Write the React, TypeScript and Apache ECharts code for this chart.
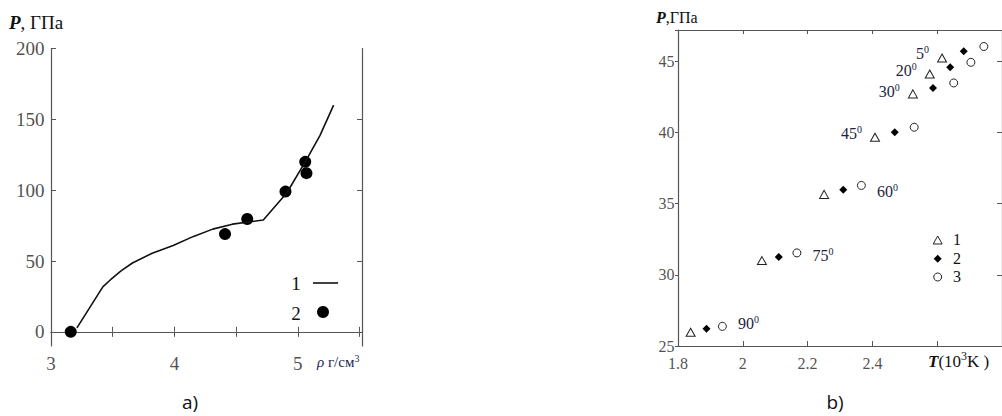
import React, { useEffect, useRef } from "react";
import * as echarts from "echarts";

// Panel a)
const curveRho = [3.21, 3.42, 3.48, 3.57, 3.66, 3.82, 3.99, 4.15, 4.31, 4.47, 4.72, 4.91, 5.06, 5.18, 5.29];
const curveP = [2.8, 31.7, 36.6, 43.2, 48.6, 55.5, 61, 67.2, 72.5, 76, 78.9, 98, 120, 138.7, 160];
const dotRho = [3.16, 4.41, 4.59, 4.9, 5.06, 5.07];
const dotP = [0, 69, 79.6, 99, 120, 112];
const aXLabels = [3, 4, 5];
const aYLabels = [0, 50, 100, 150, 200];

// Panel b)
const angles = [90, 75, 60, 45, 30, 20, 5];
const T1 = [1.839, 2.059, 2.251, 2.408, 2.525, 2.577, 2.615];
const P1 = [25.96, 31.0, 35.65, 39.67, 42.71, 44.11, 45.23];
const T2 = [1.888, 2.111, 2.31, 2.469, 2.587, 2.64, 2.682];
const P2 = [26.21, 31.26, 35.98, 40.02, 43.13, 44.58, 45.7];
const T3 = [1.937, 2.167, 2.366, 2.529, 2.651, 2.704, 2.744];
const P3 = [26.38, 31.54, 36.28, 40.37, 43.48, 44.93, 46.04];
const bXLabels = [1.8, 2, 2.2, 2.4];
const bYLabels = [25, 30, 35, 40, 45];

const SERIF = "Liberation Serif";
const AX = "#555";
const LBL = "#1c2440";

const labelOffsets: Record<number, [number, number]> = {
  90: [0, -3],
  75: [0, 3],
  60: [0, 6],
  45: [0, -4],
  30: [0, -2],
  20: [0, -3],
  5: [0, -5],
};

export default function App() {
  const ref = useRef<HTMLDivElement>(null);
  useEffect(() => {
    if (!ref.current) return;
    const chart = echarts.init(ref.current, undefined, { renderer: "svg" });

    const angleRich = {
      n: { fontFamily: SERIF, fontSize: 16, color: LBL, lineHeight: 18 },
      s: { fontFamily: SERIF, fontSize: 10, color: LBL, verticalAlign: "top", lineHeight: 18 },
    };
    const mkLabel = (a: number, pos: string) => ({
      show: true,
      position: pos,
      distance: pos === "right" ? 11 : 8,
      offset: labelOffsets[a],
      formatter: `{n|${a}}{s|0}`,
      rich: angleRich,
    });

    const tri = T1.map((t, i) => ({
      value: [t, P1[i]],
      label: i >= 3 ? mkLabel(angles[i], "left") : { show: false },
    }));
    const dia = T2.map((t, i) => ({ value: [t, P2[i]] }));
    const circ = T3.map((t, i) => ({
      value: [t, P3[i]],
      label: i < 3 ? mkLabel(angles[i], "right") : { show: false },
    }));

    const axisCommon = {
      axisLine: { show: true, lineStyle: { color: AX, width: 1.2 } },
      splitLine: { show: false },
      axisLabel: { show: false },
    };
    const tickIn = (len: number) => ({ show: true, inside: true, length: len, lineStyle: { color: AX } });

    // tick-label series: transparent points on the axis, labelled through the axis scales
    const tickLabelSeries = (
      xi: number,
      pts: number[][],
      pos: string,
      dist: number,
      size: number,
      idx: number
    ) => ({
      type: "scatter",
      xAxisIndex: xi,
      yAxisIndex: xi,
      symbol: "circle",
      symbolSize: 1,
      clip: false,
      silent: true,
      z: 5,
      itemStyle: { color: "rgba(0,0,0,0)" },
      data: pts.map((p) => ({
        value: p,
        label: {
          show: true,
          position: pos,
          distance: dist,
          formatter: `{t|${p[idx]}}`,
          rich: { t: { fontFamily: SERIF, fontSize: size, color: "#222", lineHeight: size + 2 } },
        },
      })),
    });

    const option: any = {
      animation: false,
      textStyle: { fontFamily: SERIF },
      grid: [
        { left: 51, top: 48.5, width: 311, height: 297.5 },
        { left: 678, top: 30, width: 327.5, height: 316 },
      ],
      xAxis: [
        { gridIndex: 0, type: "value", min: 3, max: 5.52, interval: 0.5, position: "bottom", ...axisCommon, axisTick: tickIn(5) },
        { gridIndex: 0, type: "value", min: 3, max: 5.52, interval: 0.5, position: "top", ...axisCommon, axisTick: tickIn(5) },
        { gridIndex: 1, type: "value", min: 1.8, max: 2.8, interval: 0.2, position: "bottom", ...axisCommon, axisTick: tickIn(5) },
        { gridIndex: 1, type: "value", min: 1.8, max: 2.8, interval: 0.2, position: "top", ...axisCommon, axisTick: tickIn(4) },
      ],
      yAxis: [
        {
          gridIndex: 0, type: "value", min: -10, max: 200, interval: 10, position: "left",
          ...axisCommon, axisTick: { ...tickIn(5), customValues: aYLabels },
        },
        {
          gridIndex: 0, type: "value", min: -10, max: 200, interval: 10, position: "right",
          ...axisCommon, axisTick: { ...tickIn(5), customValues: [50, 100, 150] },
        },
        {
          gridIndex: 1, type: "value", min: 25, max: 47.2, interval: 5, position: "left",
          ...axisCommon, axisTick: { show: true, inside: false, length: 3, lineStyle: { color: AX } },
        },
        {
          gridIndex: 1, type: "value", min: 25, max: 47.2, interval: 5, position: "right",
          ...axisCommon, axisTick: tickIn(5),
        },
      ],
      series: [
        {
          type: "line", xAxisIndex: 0, yAxisIndex: 0,
          data: curveRho.map((r, i) => [r, curveP[i]]),
          showSymbol: false, symbol: "none",
          lineStyle: { color: "#111", width: 1.6 },
          silent: true,
        },
        {
          type: "scatter", xAxisIndex: 0, yAxisIndex: 0,
          data: dotRho.map((r, i) => [r, dotP[i]]),
          symbol: "circle", symbolSize: 12,
          itemStyle: { color: "#000", opacity: 1 },
          silent: true,
        },
        {
          type: "scatter", xAxisIndex: 2, yAxisIndex: 2,
          data: tri, symbol: "triangle", symbolSize: [9, 8],
          itemStyle: { color: "#fff", borderColor: "#222", borderWidth: 1, opacity: 1 },
          silent: true,
        },
        {
          type: "scatter", xAxisIndex: 2, yAxisIndex: 2,
          data: dia, symbol: "diamond", symbolSize: [8, 8],
          itemStyle: { color: "#000", opacity: 1 },
          silent: true,
        },
        {
          type: "scatter", xAxisIndex: 2, yAxisIndex: 2,
          data: circ, symbol: "circle", symbolSize: 8,
          itemStyle: { color: "#fff", borderColor: "#222", borderWidth: 1, opacity: 1 },
          silent: true,
        },
        tickLabelSeries(0, aXLabels.map((v) => [v, -10]), "bottom", 6, 19, 0),
        tickLabelSeries(0, aYLabels.map((v) => [3, v]), "left", 6, 19, 1),
        tickLabelSeries(2, bXLabels.map((v) => [v, 25]), "bottom", 8, 16, 0),
        tickLabelSeries(2, bYLabels.map((v) => [1.8, v]), "left", 3, 16, 1),
      ],
      graphic: [
        {
          type: "text", left: 9, top: 13,
          style: {
            text: "{b|P}{n|, ГПа}",
            rich: {
              b: { fontFamily: SERIF, fontSize: 19, fontWeight: "bold", fontStyle: "italic", fill: "#111" },
              n: { fontFamily: SERIF, fontSize: 19, fill: "#111" },
            },
          },
        },
        {
          type: "text", left: 317, top: 353,
          style: {
            text: "{i|ρ}{n| г/см}{s|3}",
            rich: {
              i: { fontFamily: SERIF, fontSize: 15, fontStyle: "italic", fill: "#1a2a55", lineHeight: 18 },
              n: { fontFamily: SERIF, fontSize: 15, fill: "#1a2a55", lineHeight: 18 },
              s: { fontFamily: SERIF, fontSize: 10, fill: "#1a2a55", verticalAlign: "top", lineHeight: 18 },
            },
          },
        },
        { type: "text", x: 296, y: 283, style: { text: "1", fontFamily: SERIF, fontSize: 19, fill: "#111", align: "center", verticalAlign: "middle" } },
        { type: "line", shape: { x1: 313, y1: 283, x2: 338, y2: 283 }, style: { stroke: "#111", lineWidth: 1.6 } },
        { type: "text", x: 296, y: 313, style: { text: "2", fontFamily: SERIF, fontSize: 19, fill: "#111", align: "center", verticalAlign: "middle" } },
        { type: "circle", shape: { cx: 323, cy: 312, r: 6 }, style: { fill: "#000" } },
        {
          type: "text", left: 656, top: 9,
          style: {
            text: "{b|P}{n|,ГПа}",
            rich: {
              b: { fontFamily: SERIF, fontSize: 16, fontWeight: "bold", fontStyle: "italic", fill: "#111" },
              n: { fontFamily: SERIF, fontSize: 16, fill: "#111" },
            },
          },
        },
        {
          type: "text", left: 928, top: 350,
          style: {
            text: "{b|T}{n|(10}{s|3}{n|K )}",
            rich: {
              b: { fontFamily: SERIF, fontSize: 17, fontWeight: "bold", fontStyle: "italic", fill: "#111", lineHeight: 22 },
              n: { fontFamily: SERIF, fontSize: 17, fill: "#111", lineHeight: 22 },
              s: { fontFamily: SERIF, fontSize: 12, fill: "#111", verticalAlign: "top", lineHeight: 22 },
            },
          },
        },
        { type: "polygon", shape: { points: [[937.7, 236], [942.2, 244], [933.2, 244]] }, style: { fill: "#fff", stroke: "#222", lineWidth: 1 } },
        { type: "text", x: 957, y: 239, style: { text: "1", fontFamily: SERIF, fontSize: 16, fill: "#111", align: "center", verticalAlign: "middle" } },
        { type: "polygon", shape: { points: [[937.7, 254.7], [941.7, 258.7], [937.7, 262.7], [933.7, 258.7]] }, style: { fill: "#000" } },
        { type: "text", x: 957, y: 258, style: { text: "2", fontFamily: SERIF, fontSize: 16, fill: "#111", align: "center", verticalAlign: "middle" } },
        { type: "circle", shape: { cx: 937.7, cy: 277, r: 4 }, style: { fill: "#fff", stroke: "#222", lineWidth: 1 } },
        { type: "text", x: 957, y: 276, style: { text: "3", fontFamily: SERIF, fontSize: 16, fill: "#111", align: "center", verticalAlign: "middle" } },
        { type: "text", x: 190, y: 402, style: { text: "a)", fontFamily: "Open Sans", fontSize: 19, fill: "#111", align: "center", verticalAlign: "middle" } },
        { type: "text", x: 835, y: 402, style: { text: "b)", fontFamily: "Open Sans", fontSize: 19, fill: "#111", align: "center", verticalAlign: "middle" } },
      ],
    };
    chart.setOption(option);
    return () => chart.dispose();
  }, []);

  return (
    <div
      ref={ref}
      style={{ position: "fixed", left: 0, top: 0, width: 1002, height: 416, background: "#fff" }}
    />
  );
}
